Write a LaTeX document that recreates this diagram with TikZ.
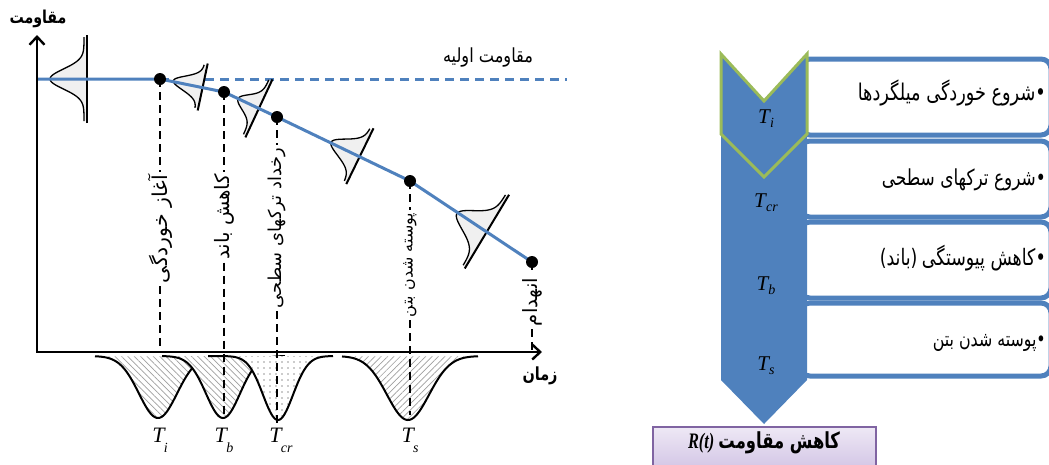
\documentclass[tikz,border=0pt]{standalone}
\usepackage{fontspec}
\usepackage{graphicx}
\setmainfont{Liberation Serif}
\newfontfamily\fa[Script=Arabic]{DejaVu Sans}
\TeXXeTstate=1
\usetikzlibrary{arrows.meta,patterns.meta}
\definecolor{ablue}{RGB}{79,129,189}
\definecolor{agreen}{RGB}{155,187,89}
\definecolor{apurple}{RGB}{128,100,162}
\definecolor{lavA}{RGB}{238,232,245}
\definecolor{lavB}{RGB}{208,194,228}
\newcommand\fw[3][1]{\scalebox{1}[#1]{\resizebox{#2}{!}{#3}}}
\newcommand\fat[1]{{\fa\beginR #1\endR}}
\newcommand\fab[1]{{\fa\bfseries\beginR #1\endR}}
\newcommand\Tlow[1]{{\fontsize{22}{22}\selectfont\textit{T}\kern-2pt\raisebox{-10pt}{\fontsize{14}{14}\selectfont\textit{#1}}}}
\newcommand\Tsb[1]{{\fontsize{21}{21}\selectfont\textit{T}\kern-1pt\raisebox{-4pt}{\fontsize{14}{14}\selectfont\textit{#1}}}}
\newcommand\bellshape[6]{%
 \pgfmathsetmacro\bellLc{#4-2}%
 \pgfmathsetmacro\bellux{-sin(#3)}%
 \pgfmathsetmacro\belluy{cos(#3)}%
 \pgfmathsetmacro\bellvx{cos(#3)}%
 \pgfmathsetmacro\bellvy{sin(#3)}%
 \fill[gray!12] plot[variable=\q,domain=-\bellLc:\bellLc,samples=61,smooth]
  ({#1+(\q)*(\bellux)+(3+(#5-3)*exp(-((\q)*(\q))/(2*#6*#6)))*(\bellvx)},{#2+(\q)*(\belluy)+(3+(#5-3)*exp(-((\q)*(\q))/(2*#6*#6)))*(\bellvy)})
  -- ({#1+(\bellLc)*(\bellux)},{#2+(\bellLc)*(\belluy)}) -- ({#1-(\bellLc)*(\bellux)},{#2-(\bellLc)*(\belluy)}) -- cycle;
 \draw[bellcurve] plot[variable=\q,domain=-\bellLc:\bellLc,samples=61,smooth]
  ({#1+(\q)*(\bellux)+(3+(#5-3)*exp(-((\q)*(\q))/(2*#6*#6)))*(\bellvx)},{#2+(\q)*(\belluy)+(3+(#5-3)*exp(-((\q)*(\q))/(2*#6*#6)))*(\bellvy)});
 \draw[bellbase] ({#1-(#4)*(\bellux)},{#2-(#4)*(\belluy)}) -- ({#1+(#4)*(\bellux)},{#2+(#4)*(\belluy)});
}
\newcommand\gaussdip[6]{%
 \fill[white] plot[domain=#4:#5,samples=90] (\x,{356+#2*exp(-((\x-#1)*(\x-#1))/(2*#3*#3))}) -- cycle;
 \fill[#6] plot[domain=#4:#5,samples=90] (\x,{356+#2*exp(-((\x-#1)*(\x-#1))/(2*#3*#3))}) -- cycle;
 \draw[gcurve] plot[domain=#4:#5,samples=90] (\x,{356+#2*exp(-((\x-#1)*(\x-#1))/(2*#3*#3))});
}
\begin{document}
\begin{tikzpicture}[x=1pt,y=-1pt,
 bline/.style={draw=ablue,line width=3pt,line join=round},
 bdash/.style={draw=ablue,line width=3pt,dash pattern=on 9pt off 6pt},
 vdash/.style={draw=black,line width=1.5pt,dash pattern=on 8pt off 5pt},
 axisl/.style={draw=black,line width=2.6pt},
 dotn/.style={circle,fill=black,minimum size=12pt,inner sep=0pt},
 vlabel/.style={rotate=90,inner sep=0pt,outer sep=3pt},
 gcurve/.style={draw=black,line width=2pt},
 bellcurve/.style={draw=black,line width=1.3pt},
 bellbase/.style={draw=black,line width=2pt},
 hatchA/.style={pattern={Lines[angle=-45,distance=4.5pt,line width=0.7pt]},pattern color=gray!75},
 hatchB/.style={pattern={Lines[angle=45,distance=4.5pt,line width=0.7pt]},pattern color=gray!75},
 dotpat/.style={pattern={Dots[distance=6pt,radius=0.8pt]},pattern color=gray!80},
 listbox/.style={draw=ablue,line width=5pt,fill=white,rounded corners=10pt,inner sep=0pt},
 listtext/.style={anchor=east,inner sep=0pt},
 rbox/.style={draw=apurple,line width=2pt,top color=lavA,bottom color=lavB,inner sep=0pt},
]
\useasboundingbox (0,0) rectangle (1049,464);
% ---------------- right diagram ----------------
\node[listbox,minimum width=251pt,minimum height=76pt] (b1) at (925.5,97) {};
\node[listbox,minimum width=251pt,minimum height=76pt] (b2) at (925.5,179) {};
\node[listbox,minimum width=251pt,minimum height=76pt] (b3) at (925.5,260) {};
\node[listbox,minimum width=251pt,minimum height=73pt] (b4) at (925.5,339.5) {};
\node[listtext] (t1) at (1046,93) {\fw[1.3]{188pt}{\fat{شروع خوردگی میلگردها}\fa•}};
\node[listtext] (t2) at (1046,180) {\fw[1.3]{164pt}{\fat{شروع ترکهای سطحی}\fa•}};
\node[listtext] (t3) at (1046,258) {\fw[1.3]{166pt}{{\fa)}\fat{باند}{\fa(} \fat{کاهش پیوستگی}\fa•}};
\node[listtext] (t4) at (1046,343) {\fw[1.3]{113pt}{\fat{پوسته شدن بتن}\fa•}};
\fill[ablue] (721,54) -- (764,101) -- (807,54) -- (807,380) -- (764,424) -- (721,380) -- cycle;
\draw[agreen,line width=3pt] (721,54) -- (764,101) -- (807,54) -- (807,134) -- (764,177) -- (721,134) -- cycle;
\node (c1) at (766,119) {\Tsb{i}};
\node (c2) at (766,203) {\Tsb{cr}};
\node (c3) at (766,286) {\Tsb{b}};
\node (c4) at (766,366) {\Tsb{s}};
\node[rbox,minimum width=223pt,minimum height=46pt] (rb) at (764.5,450) {};
\node (rt) at (764,443) {\fw[1.35]{152pt}{\textbf{\textit{R(t)}}\ \fab{کاهش مقاومت}}};
% ---------------- left chart ----------------
\coordinate (y0) at (37,79);
\coordinate (p1) at (160,79);
\coordinate (p2) at (224,92);
\coordinate (p3) at (277,117);
\coordinate (p4) at (410,181);
\coordinate (p5) at (532,262);
\coordinate (dashend) at (567,79);
\coordinate (O) at (37,352);
\coordinate (ytop) at (37,35);
\coordinate (xend) at (542,352);
\draw[bdash] (p1) -- (dashend);
\node (initr) at (488,57) {\fw[1.2]{90pt}{\fat{مقاومت اولیه}}};
\bellshape{87}{79}{180}{44}{37}{10}
\bellshape{202.7}{87}{192}{24}{30}{7}
\bellshape{258.9}{108.4}{205}{32}{23}{8}
\bellshape{359.9}{156.2}{206}{31}{32}{9}
\bellshape{486.9}{231.6}{211}{43}{35}{11}
\draw[bline] (y0) -- (p1) -- (p2) -- (p3) -- (p4) -- (p5);
\gaussdip{158}{62}{19}{95}{221}{hatchA}
\gaussdip{223}{62}{17}{162}{285}{hatchA}
\gaussdip{278}{64}{15}{208}{333}{dotpat}
\gaussdip{408}{64}{21}{342}{478}{hatchB}
\node[vlabel] (l1) at (160,229) {\fw{108pt}{\fat{آغاز خوردگی}}};
\node[vlabel] (l2) at (224,217) {\fw{85pt}{\fat{کاهش باند}}};
\node[vlabel] (l3) at (277,228) {\fw{160pt}{\fat{رخداد ترکهای سطحی}}};
\node[vlabel] (l4) at (410,265) {\fw{104pt}{\fat{پوسته شدن بتن}}};
\node[vlabel] (l5) at (532,302) {\fw{48pt}{\fat{انهدام}}};
\coordinate (e1) at (160,352);
\coordinate (e2) at (224,418);
\coordinate (e3) at (277,428);
\coordinate (e4) at (410,415);
\coordinate (e5) at (532,350);
\draw[vdash] (p1) -- (l1.east); \draw[vdash] (l1.west) -- (e1);
\draw[vdash] (p2) -- (l2.east); \draw[vdash] (l2.west) -- (e2);
\draw[vdash] (p3) -- (l3.east); \draw[vdash] (l3.west) -- (e3);
\draw[vdash] (p4) -- (l4.east); \draw[vdash] (l4.west) -- (e4);
\draw[vdash] (p5) -- (l5.east); \draw[vdash] (l5.west) -- (e5);
\draw[axisl,{Straight Barb[length=8pt,width=15pt,line width=2.4pt]}-{Straight Barb[length=8pt,width=15pt,line width=2.4pt]}] (ytop) -- (O) -- (xend);
\node[dotn] (d1) at (p1) {};
\node[dotn] (d2) at (p2) {};
\node[dotn] (d3) at (p3) {};
\node[dotn] (d4) at (p4) {};
\node[dotn] (d5) at (p5) {};
\node (ylab) at (38,19) {\fw[1.25]{57pt}{\fab{مقاومت}}};
\node (xlab) at (540,376) {\fw[1.25]{35pt}{\fab{زمان}}};
\node (Ti) at (160,440) {\Tlow{i}};
\node (Tb) at (224,440) {\Tlow{b}};
\node (Tcr) at (281,440) {\Tlow{cr}};
\node (Ts) at (410,440) {\Tlow{s}};
\end{tikzpicture}
\end{document}
